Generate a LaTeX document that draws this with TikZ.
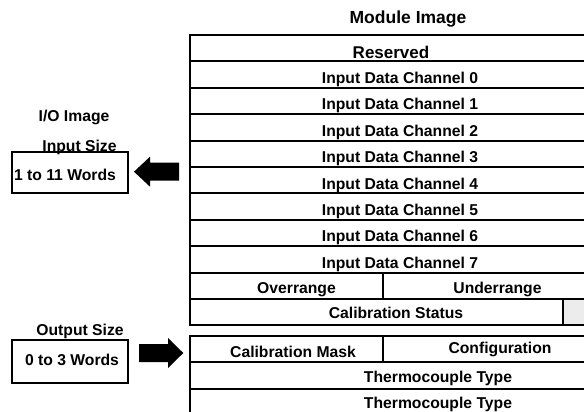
\documentclass[tikz,border=0pt]{standalone}
\usepackage{fontspec}
\setmainfont{Liberation Sans}
\usetikzlibrary{calc}

\begin{document}
\begin{tikzpicture}[x=0.5pt,y=-0.5pt,
    cell/.style={line width=1pt},
    lbl/.style={anchor=base,inner sep=0pt,font=\bfseries\fontsize{7.85}{9}\selectfont},
    sizebox/.style={draw,line width=0.7pt,minimum width=58pt,inner sep=0pt}]
    % Frame
    \useasboundingbox (0,0) rectangle (584,412);
    \clip (0,0) rectangle (584,412);

    % Title
    \node[lbl,font=\bfseries\fontsize{8.75}{10}\selectfont] (title) at (408,24) {Module Image};

    % Input words
    \fill[gray!15] (563,299) rectangle (610,325.4);
    \draw[cell] (190,35) rectangle (610,325.4);
    \foreach \k in {1,...,10} {
      \draw[cell] (190,{35+26.4*\k}) -- (610,{35+26.4*\k});
    }
    \draw[cell] (383,272.6) -- (383,299);
    \draw[cell] (563,299) -- (563,325.4);

    \node[lbl,font=\bfseries\fontsize{8.5}{10}\selectfont] (reserved) at (391,58.3) {Reserved};
    \foreach \c in {0,...,7} {
      \node[lbl] (chan\c) at (400,{83.4+26.4*\c}) {Input Data Channel \c};
    }
    \node[lbl] (over) at (296.5,293) {Overrange};
    \node[lbl] (under) at (497.5,293) {Underrange};
    \node[lbl] (calstat) at (396,318.5) {Calibration Status};

    % Output words
    \draw[cell] (190,336) rectangle (610,430);
    \draw[cell] (190,362.4) -- (610,362.4);
    \draw[cell] (190,388.8) -- (610,388.8);
    \draw[cell] (383,336) -- (383,362.4);

    \node[lbl] (calmask) at (293,357) {Calibration Mask};
    \node[lbl] (config) at (500,353) {Configuration};
    \node[lbl] (tctype) at (438,382) {Thermocouple Type};
    \node[lbl] (tctypeb) at (438,408.5) {Thermocouple Type};

    % I/O image sizes
    \node[lbl] (ioimage) at (74,121.7) {I/O Image};
    \node[sizebox,minimum height=20.5pt] (inbox) at (70,172.5) {};
    \node[lbl] (insize) at (79.5,151) {Input Size};
    \node[lbl] (inwords) at (65,180) {1 to 11 Words};

    \node[sizebox,minimum height=21.5pt] (outbox) at (70,361.5) {};
    \node[lbl] (outsize) at (80,335) {Output Size};
    \node[lbl] (outwords) at (72,365) {0 to 3 Words};

    % Block arrows
    \fill[black] (179,162.7) -- (150,162.7) -- (150,156.7) -- (134,171.7)
      -- (150,186.7) -- (150,180.7) -- (179,180.7) -- cycle;
    \fill[black] (139,344) -- (168,344) -- (168,338) -- (183.3,353)
      -- (168,368) -- (168,362) -- (139,362) -- cycle;
\end{tikzpicture}
\end{document}
